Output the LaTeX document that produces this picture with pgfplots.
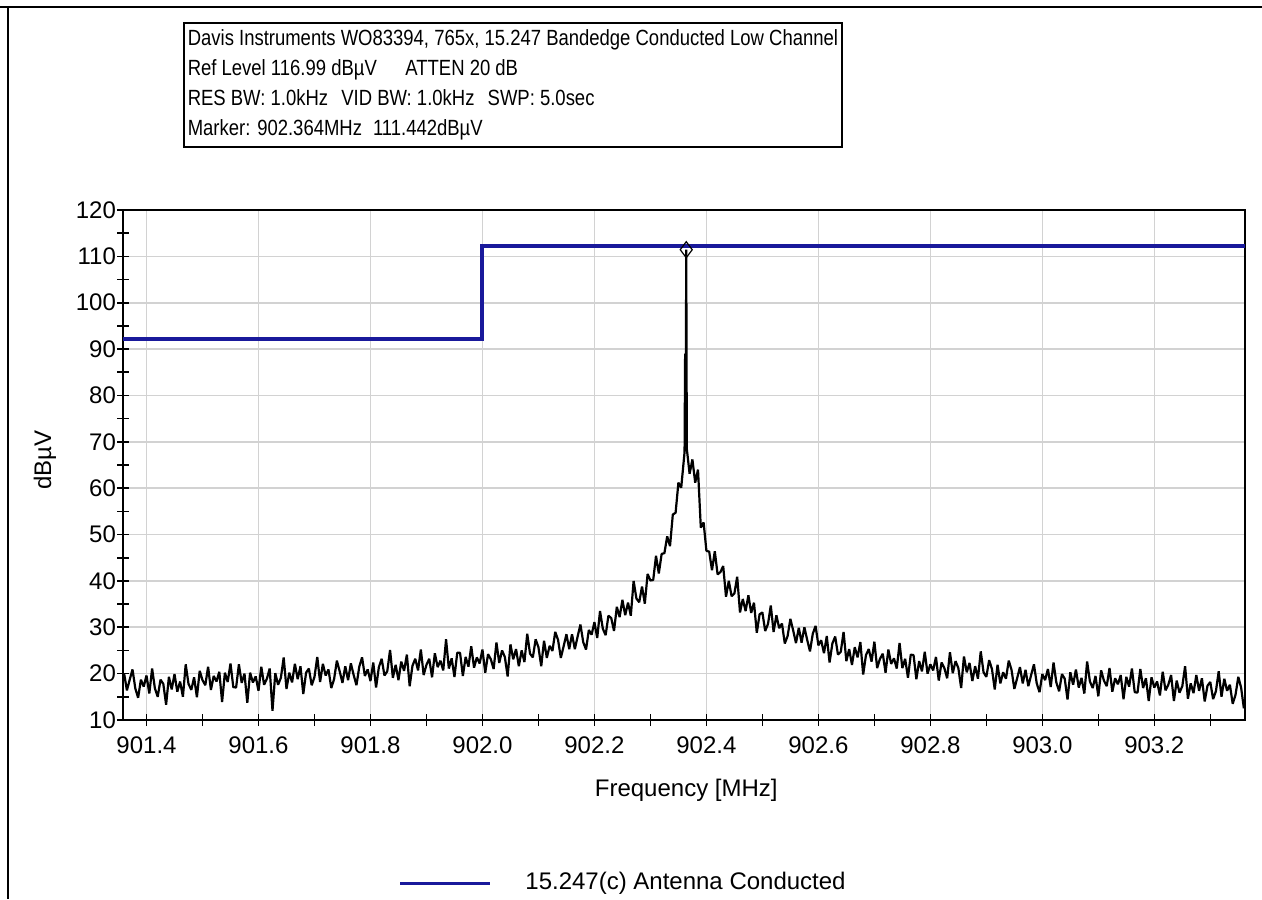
\documentclass[border=0pt]{standalone}
\usepackage{pgfplots}
\pgfplotsset{compat=1.18}
\usepackage{fontspec}
\setmainfont{Liberation Sans}
\newfontfamily\titlefont[FakeStretch=0.84]{Liberation Sans}
\definecolor{limitblue}{RGB}{25,25,155}
\definecolor{gridgray}{RGB}{210,210,210}
\pgfplotstableread{
x y
901.360 20.0
901.365 16.4
901.370 18.7
901.375 20.9
901.380 16.8
901.385 14.8
901.390 18.7
901.395 17.2
901.400 19.6
901.405 15.7
901.410 21.1
901.415 16.8
901.420 15.0
901.425 18.7
901.430 17.8
901.435 13.3
901.440 19.3
901.445 16.6
901.450 19.9
901.455 16.1
901.460 18.3
901.465 15.0
901.470 22.0
901.475 17.8
901.480 16.5
901.485 19.2
901.490 14.9
901.495 20.6
901.500 18.6
901.505 17.5
901.510 21.5
901.515 16.5
901.520 19.5
901.525 18.3
901.530 20.4
901.535 13.9
901.540 20.2
901.545 18.2
901.550 22.2
901.555 17.1
901.560 17.0
901.565 22.0
901.570 18.0
901.575 20.0
901.580 13.7
901.585 20.2
901.590 18.1
901.595 19.4
901.600 16.3
901.605 21.5
901.610 17.6
901.615 18.9
901.620 21.1
901.625 12.0
901.630 20.1
901.635 17.6
901.640 19.1
901.645 23.5
901.650 16.7
901.655 20.2
901.660 18.1
901.665 22.1
901.670 18.8
901.675 21.6
901.680 15.6
901.685 20.2
901.690 21.1
901.695 17.5
901.700 19.3
901.705 23.6
901.710 18.2
901.715 22.1
901.720 19.6
901.725 20.9
901.730 16.9
901.735 18.8
901.740 22.8
901.745 20.5
901.750 18.0
901.755 21.6
901.760 18.6
901.765 22.2
901.770 19.7
901.775 17.5
901.780 21.5
901.785 23.5
901.790 19.5
901.795 20.9
901.800 18.4
901.805 22.4
901.810 17.0
901.815 21.4
901.820 23.2
901.825 19.6
901.830 20.5
901.835 25.1
901.840 19.1
901.845 21.9
901.850 18.6
901.855 22.6
901.860 20.6
901.865 24.1
901.870 17.3
901.875 21.7
901.880 23.2
901.885 20.7
901.890 25.2
901.895 19.7
901.900 21.9
901.905 23.2
901.910 19.2
901.915 24.4
901.920 21.4
901.925 22.8
901.930 20.7
901.935 27.4
901.940 21.1
901.945 23.3
901.950 19.3
901.955 24.5
901.960 24.5
901.965 19.5
901.970 23.6
901.975 21.5
901.980 25.9
901.985 21.3
901.990 23.5
901.995 22.2
902.000 25.2
902.005 20.2
902.010 24.2
902.015 23.1
902.020 21.0
902.025 26.7
902.030 22.3
902.035 25.0
902.040 23.6
902.045 19.4
902.050 26.3
902.055 23.1
902.060 25.3
902.065 21.6
902.070 25.0
902.075 22.5
902.080 28.6
902.085 24.3
902.090 23.5
902.095 27.4
902.100 25.7
902.105 21.6
902.110 27.1
902.115 23.4
902.120 26.0
902.125 24.9
902.130 29.0
902.135 27.3
902.140 23.4
902.145 25.9
902.150 28.5
902.155 25.3
902.160 28.5
902.165 25.3
902.170 28.0
902.175 30.6
902.180 26.8
902.185 25.2
902.190 29.4
902.195 28.4
902.200 31.1
902.205 27.7
902.210 33.5
902.215 29.7
902.220 28.3
902.225 32.5
902.230 32.0
902.235 29.2
902.240 34.4
902.245 32.2
902.250 35.9
902.255 32.6
902.260 35.3
902.265 32.5
902.270 40.0
902.275 36.2
902.280 35.4
902.285 38.8
902.290 35.1
902.295 41.5
902.300 40.1
902.305 40.2
902.310 45.4
902.315 41.6
902.320 45.8
902.325 46.0
902.330 49.6
902.335 47.5
902.340 54.3
902.345 54.7
902.350 61.2
902.355 60.1
902.360 66.5
902.361 67.8
902.362 89.0
902.363 71.0
902.364 111.442
902.365 68.5
902.370 63.1
902.375 66.2
902.380 61.2
902.385 64.0
902.390 51.5
902.395 52.6
902.400 46.5
902.405 46.3
902.410 42.3
902.415 46.4
902.420 41.4
902.425 41.9
902.430 43.2
902.435 36.6
902.440 40.0
902.445 36.7
902.450 37.3
902.455 40.9
902.460 33.2
902.465 36.1
902.470 33.5
902.475 36.9
902.480 33.1
902.485 35.3
902.490 28.8
902.495 32.8
902.500 33.2
902.505 29.2
902.510 30.7
902.515 34.7
902.520 29.0
902.525 32.6
902.530 29.8
902.535 30.8
902.540 26.5
902.545 28.1
902.550 31.8
902.555 29.3
902.560 26.6
902.565 29.9
902.570 26.7
902.575 30.0
902.580 27.3
902.585 24.8
902.590 28.6
902.595 30.3
902.600 26.1
902.605 27.2
902.610 24.4
902.615 28.1
902.620 22.4
902.625 26.5
902.630 28.0
902.635 24.1
902.640 24.7
902.645 29.0
902.650 22.7
902.655 25.3
902.660 21.9
902.665 25.7
902.670 23.5
902.675 26.8
902.680 19.8
902.685 24.0
902.690 25.3
902.695 22.6
902.700 26.9
902.705 21.2
902.710 23.2
902.715 24.3
902.720 20.2
902.725 25.2
902.730 22.1
902.735 23.3
902.740 21.1
902.745 26.6
902.750 21.2
902.755 23.2
902.760 19.1
902.765 24.1
902.770 24.0
902.775 18.8
902.780 22.7
902.785 20.5
902.790 24.7
902.795 20.0
902.800 22.0
902.805 20.7
902.810 23.6
902.815 18.5
902.820 22.4
902.825 21.2
902.830 19.0
902.835 24.6
902.840 20.1
902.845 22.7
902.850 21.2
902.855 16.9
902.860 23.7
902.865 20.3
902.870 22.3
902.875 18.4
902.880 21.6
902.885 18.9
902.890 24.8
902.895 20.3
902.900 19.3
902.905 22.9
902.910 21.0
902.915 16.6
902.920 21.9
902.925 17.9
902.930 20.3
902.935 18.9
902.940 22.8
902.945 20.8
902.950 16.7
902.955 19.0
902.960 21.4
902.965 17.9
902.970 20.8
902.975 17.3
902.980 19.7
902.985 22.0
902.990 17.9
902.995 16.0
903.000 19.9
903.005 18.6
903.010 21.0
903.015 17.1
903.020 22.4
903.025 18.1
903.030 16.2
903.035 19.9
903.040 18.9
903.045 14.4
903.050 20.3
903.055 17.6
903.060 20.9
903.065 17.0
903.070 19.1
903.075 15.7
903.080 22.6
903.085 18.3
903.090 16.9
903.095 19.5
903.100 15.1
903.105 20.7
903.110 18.5
903.115 17.3
903.120 21.2
903.125 16.1
903.130 19.0
903.135 17.7
903.140 19.7
903.145 14.5
903.150 19.3
903.155 17.2
903.160 21.1
903.165 16.0
903.170 15.9
903.175 21.0
903.180 16.9
903.185 19.0
903.190 14.1
903.195 19.2
903.200 17.0
903.205 18.3
903.210 15.3
903.215 20.4
903.220 16.4
903.225 17.6
903.230 19.7
903.235 14.1
903.240 18.5
903.245 15.9
903.250 17.3
903.255 21.6
903.260 14.6
903.265 17.9
903.270 15.8
903.275 19.7
903.280 16.3
903.285 19.0
903.290 14.0
903.295 17.4
903.300 18.2
903.305 14.5
903.310 16.2
903.315 20.5
903.320 15.0
903.325 18.9
903.330 16.3
903.335 17.6
903.340 13.5
903.345 15.4
903.350 19.3
903.355 17.0
903.360 12.5
}\trace
\begin{document}
\begin{tikzpicture}[x=1pt,y=1pt]
\useasboundingbox (0,0) rectangle (631,449.5);
\draw[line width=1pt] (0,446) -- (631,446);
\draw[line width=1pt] (4,446) -- (4,0);
\node[draw, line width=0.8pt, anchor=north west, align=left, inner xsep=2pt, inner ysep=3.5pt,
  font=\titlefont\fontsize{11}{15}\selectfont]
  at (91.5,438.5) {Davis Instruments WO83394, 765x, 15.247 Bandedge Conducted Low Channel\\
  Ref Level 116.99 dBµV\hspace{1.3em}ATTEN 20 dB\\
  RES BW: 1.0kHz\hspace{0.6em}VID BW: 1.0kHz\hspace{0.6em}SWP: 5.0sec\\
  Marker: 902.364MHz\hspace{0.5em}111.442dBµV};
\begin{axis}[
  at={(61.5pt,89.5pt)}, anchor=south west,
  scale only axis, width=561pt, height=255pt,
  xmin=901.358, xmax=903.362, ymin=10, ymax=120,
  axis line style={line width=0.8pt},
  xtick={901.4,901.6,901.8,902.0,902.2,902.4,902.6,902.8,903.0,903.2},
  xticklabels={901.4,901.6,901.8,902.0,902.2,902.4,902.6,902.8,903.0,903.2},
  minor xtick={901.5,901.7,901.9,902.1,902.3,902.5,902.7,902.9,903.1,903.3},
  ytick={10,20,30,40,50,60,70,80,90,100,110,120},
  yticklabels={10,20,30,40,50,60,70,80,90,100,110,120},
  minor ytick={15,25,35,45,55,65,75,85,95,105,115},
  tick align=center, major tick length=6pt, minor tick length=6pt,
  tick style={black, line width=0.8pt},
  xtick pos=bottom, ytick pos=left,
  grid=major, major grid style={gridgray, line width=0.8pt},
  ticklabel style={font=\fontsize{12}{14}\selectfont},
  xticklabel style={yshift=-2pt},
  yticklabel style={xshift=3pt},
  /pgf/number format/assume math mode=true,
  xlabel={Frequency [MHz]}, ylabel={dBµV},
  label style={font=\fontsize{12}{14}\selectfont},
  xlabel style={at={(axis description cs:0.502,-0.137)}, anchor=center},
  ylabel style={at={(axis description cs:-0.0695,0.51)}, anchor=center},
]
\addplot[black, line width=1.1pt, line join=bevel] table[x=x, y=y] {\trace};
\addplot[limitblue, line width=2pt] coordinates {(901.358,92.2) (902.0,92.2) (902.0,112.2) (903.362,112.2)};
\addplot[black, only marks, mark=diamond, mark size=4pt, mark options={fill=white, line width=0.6pt}] coordinates {(902.364,111.442)};
\end{axis}
\draw[limitblue, line width=1.5pt] (200,8) -- (245,8);
\node[anchor=west, inner sep=0pt, font=\fontsize{12}{14}\selectfont] at (262.5,8) {15.247(c) Antenna Conducted};
\end{tikzpicture}
\end{document}
